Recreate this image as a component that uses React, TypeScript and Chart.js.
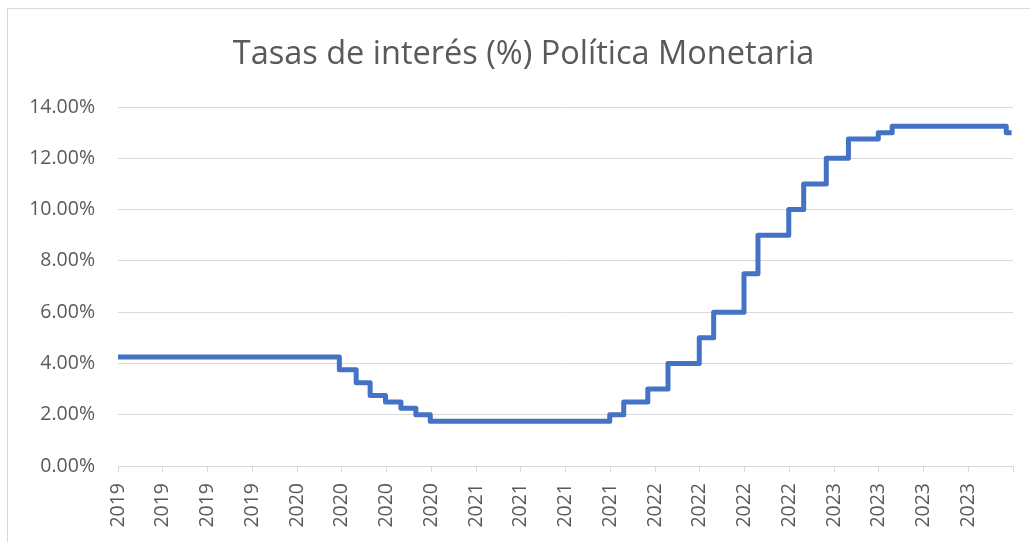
import React, { useEffect, useRef } from "react";
import { Chart, registerables } from "chart.js";

Chart.register(...registerables);

// Fechas de cambio de la tasa de política monetaria y valor vigente desde esa fecha
const changeDates = [
  "2019-01-01", "2020-03-27", "2020-04-30", "2020-05-29", "2020-06-29",
  "2020-07-31", "2020-08-31", "2020-09-29", "2021-09-30", "2021-10-29",
  "2021-12-17", "2022-01-28", "2022-03-31", "2022-04-29", "2022-06-30",
  "2022-07-29", "2022-09-30", "2022-10-31", "2022-12-16", "2023-01-31",
  "2023-03-31", "2023-04-28", "2023-12-18", "2023-12-29",
];
const policyRates = [
  4.25, 3.75, 3.25, 2.75, 2.5,
  2.25, 2.0, 1.75, 2.0, 2.5,
  3.0, 4.0, 5.0, 6.0, 7.5,
  9.0, 10.0, 11.0, 12.0, 12.75,
  13.0, 13.25, 13.0, 13.0,
];
const xTickLabels = [
  "2019", "2019", "2019", "2019",
  "2020", "2020", "2020", "2020",
  "2021", "2021", "2021", "2021",
  "2022", "2022", "2022", "2022",
  "2023", "2023", "2023", "2023",
];
const yTicks = [0, 2, 4, 6, 8, 10, 12, 14];
const chartTitle = "Tasas de interés (%) Política Monetaria";

const START_YEAR = 2019;
function monthIndex(s: string): number {
  const [y, m, d] = s.split("-").map(Number);
  const dim = new Date(y, m, 0).getDate();
  return (y - START_YEAR) * 12 + (m - 1) + (d - 1) / dim;
}

const textColor = "#595959";
const gridColor = "#d9d9d9";

// Título centrado sobre el marco del gráfico (como en Excel)
const titlePlugin = {
  id: "frameTitle",
  afterDraw(chart: any) {
    const ctx = chart.ctx;
    ctx.save();
    ctx.fillStyle = textColor;
    ctx.font = "normal 32.5px 'Open Sans'";
    ctx.textAlign = "center";
    ctx.textBaseline = "middle";
    ctx.fillText(chartTitle, 523.5, 54.5);
    ctx.restore();
  },
};

export default function App() {
  const ref = useRef<HTMLCanvasElement | null>(null);

  useEffect(() => {
    if (!ref.current) return;
    const points = changeDates.map((d, i) => ({ x: monthIndex(d), y: policyRates[i] }));
    const chart = new Chart(ref.current, {
      type: "line",
      data: {
        datasets: [
          {
            label: "Tasa",
            data: points,
            borderColor: "#4472C4",
            backgroundColor: "#4472C4",
            borderWidth: 5,
            stepped: "before",
            pointRadius: 0,
            borderJoinStyle: "round",
            borderCapStyle: "butt",
            fill: false,
          },
        ],
      },
      plugins: [titlePlugin],
      options: {
        animation: false,
        responsive: false,
        devicePixelRatio: 1,
        layout: { padding: { top: 107, right: 17, bottom: 6, left: 0 } },
        plugins: {
          legend: { display: false },
          tooltip: { enabled: false },
          title: { display: false },
        },
        scales: {
          x: {
            type: "linear",
            min: 0,
            max: xTickLabels.length * 3,
            grid: {
              drawOnChartArea: false,
              drawTicks: true,
              tickLength: 6,
              color: gridColor,
            },
            border: { display: true, color: gridColor, width: 1 },
            ticks: {
              stepSize: 3,
              autoSkip: false,
              maxRotation: 90,
              minRotation: 90,
              padding: 11,
              color: textColor,
              font: { family: "'Open Sans'", size: 19.5 },
              callback: (_v: any, i: number) => xTickLabels[i] ?? "",
            },
            afterFit: (scale: any) => {
              scale.height = 70;
              scale.paddingLeft = 0;
              scale.paddingRight = 0;
            },
          },
          y: {
            min: yTicks[0],
            max: yTicks[yTicks.length - 1],
            grid: { color: gridColor, lineWidth: 1, drawTicks: false },
            border: { display: false },
            ticks: {
              stepSize: 2,
              padding: 23,
              color: textColor,
              font: { family: "'Open Sans'", size: 19.5 },
              callback: (v: any) => Number(v).toFixed(2) + "%",
            },
            afterFit: (scale: any) => {
              scale.width = 118;
              scale.paddingTop = 0;
            },
          },
        },
      },
    });
    return () => chart.destroy();
  }, []);

  return (
    <div
      style={{
        position: "fixed",
        left: 0,
        top: 0,
        width: 1030,
        height: 542,
        background: "#ffffff",
        overflow: "hidden",
      }}
    >
      <div
        style={{
          position: "absolute",
          left: 7,
          top: 8,
          width: 1100,
          height: 600,
          border: "1px solid #d9d9d9",
        }}
      />
      <canvas
        ref={ref}
        width={1030}
        height={542}
        style={{ position: "absolute", left: 0, top: 0, width: 1030, height: 542 }}
      />
    </div>
  );
}
